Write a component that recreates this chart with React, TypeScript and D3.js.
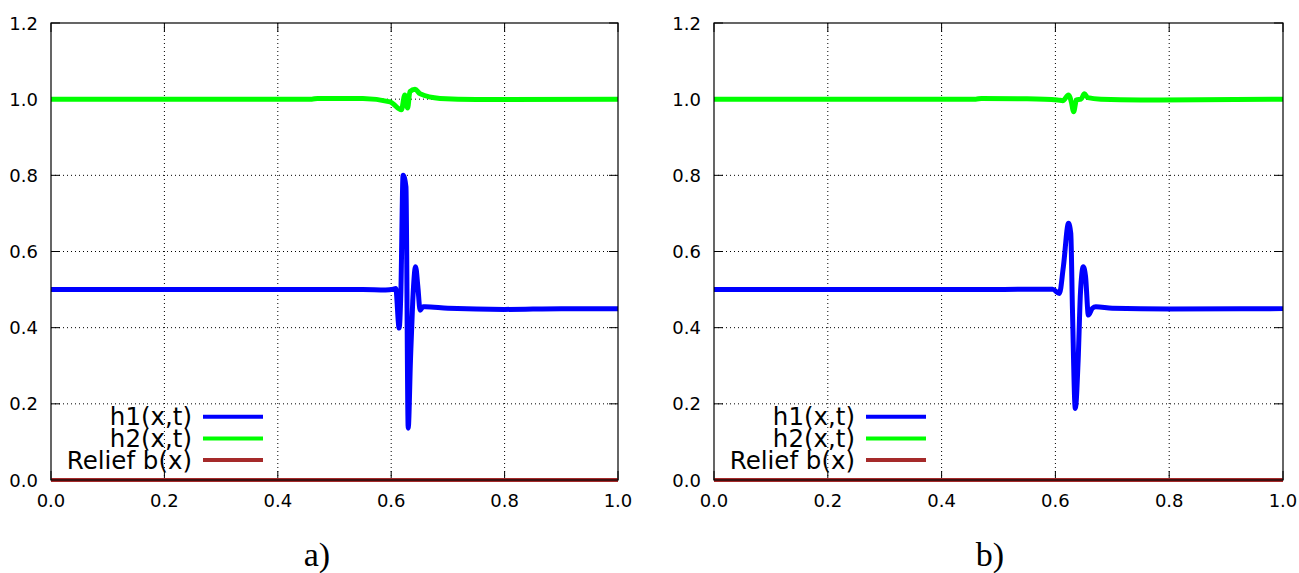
import React from "react";
import * as d3 from "d3";

const xTicks = [0, 0.2, 0.4, 0.6, 0.8, 1.0];
const yTicks = [0, 0.2, 0.4, 0.6, 0.8, 1.0, 1.2];
const legendLabels = ["h1(x,t)", "h2(x,t)", "Relief b(x)"];
const seriesColors = ["#0000ff", "#00ff00", "#a52a2a"];

// Panel a)
const h1A: [number, number][] = [
  [0, 0.5], [0.3, 0.5], [0.47, 0.5], [0.55, 0.5], [0.59, 0.499], [0.604, 0.501], [0.608, 0.503],
  [0.614, 0.399], [0.617, 0.49], [0.621, 0.8], [0.626, 0.77], [0.63, 0.136], [0.634, 0.315],
  [0.638, 0.47], [0.643, 0.56], [0.647, 0.508], [0.651, 0.446], [0.656, 0.455], [0.66, 0.455],
  [0.7, 0.451], [0.8, 0.448], [0.9, 0.45], [1.0, 0.45],
];
const h2A: [number, number][] = [
  [0, 1.0], [0.46, 1.0], [0.47, 1.002], [0.55, 1.002], [0.598, 0.993], [0.618, 0.972],
  [0.624, 1.011], [0.629, 0.977], [0.633, 1.02], [0.642, 1.026], [0.651, 1.014],
  [0.686, 1.002], [0.75, 0.999], [1.0, 1.0],
];
const bA: [number, number][] = [[0, 0], [1, 0]];

// Panel b)
const h1B: [number, number][] = [
  [0, 0.5], [0.3, 0.5], [0.47, 0.5], [0.55, 0.501], [0.595, 0.501], [0.607, 0.49], [0.614, 0.56],
  [0.623, 0.674], [0.627, 0.648], [0.63, 0.446], [0.635, 0.188], [0.64, 0.315], [0.644, 0.49],
  [0.649, 0.56], [0.653, 0.534], [0.658, 0.433], [0.665, 0.451], [0.671, 0.455], [0.7, 0.451],
  [0.8, 0.449], [1.0, 0.45],
];
const h2B: [number, number][] = [
  [0, 1.0], [0.46, 1.0], [0.47, 1.002], [0.55, 1.001], [0.604, 0.998], [0.613, 0.996],
  [0.623, 1.011], [0.628, 0.993], [0.632, 0.967], [0.637, 0.998], [0.645, 1.0], [0.651, 1.014],
  [0.657, 1.004], [0.68, 1.0], [0.75, 0.998], [1.0, 1.0],
];
const bB: [number, number][] = [[0, 0], [1, 0]];

const TOP = 23;
const BOTTOM = 480;

function Panel({ left, right, series, label, labelX }: {
  left: number; right: number; series: [number, number][][]; label: string; labelX: number;
}) {
  const x = d3.scaleLinear().domain([0, 1]).range([left, right]);
  const y = d3.scaleLinear().domain([0, 1.2]).range([BOTTOM, TOP]);
  const line = d3.line<[number, number]>().x((d) => x(d[0])).y((d) => y(d[1])).curve(d3.curveMonotoneX);
  const tickLen = 9;
  const font = "DejaVu Sans, sans-serif";
  return (
    <g>
      {xTicks.slice(1, -1).map((t) => (
        <line key={"gx" + t} x1={x(t)} x2={x(t)} y1={TOP} y2={BOTTOM} stroke="#000" strokeWidth={1} strokeDasharray="1,3" />
      ))}
      {yTicks.slice(1, -1).map((t) => (
        <line key={"gy" + t} x1={left} x2={right} y1={y(t)} y2={y(t)} stroke="#000" strokeWidth={1} strokeDasharray="1,3" />
      ))}
      {xTicks.map((t) => (
        <g key={"tx" + t}>
          <line x1={x(t)} x2={x(t)} y1={BOTTOM} y2={BOTTOM - tickLen} stroke="#000" />
          <line x1={x(t)} x2={x(t)} y1={TOP} y2={TOP + tickLen} stroke="#000" />
          <text x={x(t)} y={507} textAnchor="middle" fontFamily={font} fontSize={18} fill="#000">{t.toFixed(1)}</text>
        </g>
      ))}
      {yTicks.map((t) => (
        <g key={"ty" + t}>
          <line x1={left} x2={left + tickLen} y1={y(t)} y2={y(t)} stroke="#000" />
          <line x1={right} x2={right - tickLen} y1={y(t)} y2={y(t)} stroke="#000" />
          <text x={left - 13} y={y(t) + 6.5} textAnchor="end" fontFamily={font} fontSize={18} fill="#000">{t.toFixed(1)}</text>
        </g>
      ))}
      {legendLabels.map((l, i) => {
        const cy = 416.7 + i * 21.7;
        return (
          <g key={l}>
            <text x={left + 141} y={cy + 8.5} textAnchor="end" fontFamily={font} fontSize={24.5} fill="#000">{l}</text>
            <line x1={left + 152} x2={left + 212} y1={cy} y2={cy} stroke={seriesColors[i]} strokeWidth={4} />
          </g>
        );
      })}
      <path d={line(series[2]) || ""} fill="none" stroke={seriesColors[2]} strokeWidth={4} />
      <path d={line(series[1]) || ""} fill="none" stroke={seriesColors[1]} strokeWidth={5} strokeLinejoin="round" />
      <path d={line(series[0]) || ""} fill="none" stroke={seriesColors[0]} strokeWidth={5} strokeLinejoin="round" />
      <rect x={left} y={TOP} width={right - left} height={BOTTOM - TOP} fill="none" stroke="#000" strokeWidth={1.2} />
      <text x={labelX} y={566} textAnchor="middle" fontFamily="Liberation Serif, serif" fontSize={34} fill="#000">{label}</text>
    </g>
  );
}

export default function App() {
  return (
    <svg width={1299} height={573} style={{ position: "absolute", left: 0, top: 0, background: "#fff" }}>
      <rect width={1299} height={573} fill="#fff" />
      <Panel left={51} right={618} series={[h1A, h2A, bA]} label="a)" labelX={317} />
      <Panel left={714} right={1283} series={[h1B, h2B, bB]} label="b)" labelX={990} />
    </svg>
  );
}
